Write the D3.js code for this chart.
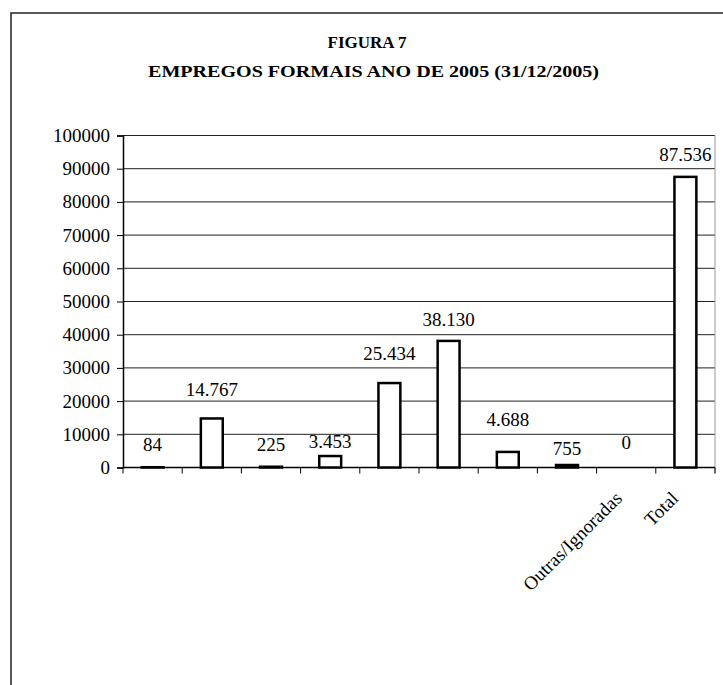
<!DOCTYPE html>
<html>
<head>
<meta charset="utf-8">
<script src="https://cdn.jsdelivr.net/npm/d3@7"></script>
<style>
  html, body { margin: 0; padding: 0; background: #fff; }
  svg { display: block; }
</style>
</head>
<body>
<svg id="chart" width="723" height="685"></svg>
<script>
// Formal jobs by sector, 31/12/2005
const categories = ["c1", "c2", "c3", "c4", "c5", "c6", "c7", "c8", "Outras/Ignoradas", "Total"];
const axisLabels = ["", "", "", "", "", "", "", "", "Outras/Ignoradas", "Total"];
const values = [84, 14767, 225, 3453, 25434, 38130, 4688, 755, 0, 87536];
const valueLabels = ["84", "14.767", "225", "3.453", "25.434", "38.130", "4.688", "755", "0", "87.536"];
const yTicks = [0, 10000, 20000, 30000, 40000, 50000, 60000, 70000, 80000, 90000, 100000];
const titleLines = ["FIGURA 7", "EMPREGOS FORMAIS ANO DE 2005 (31/12/2005)"];

const SERIF = "'Liberation Serif', 'Times New Roman', serif";
// vertical nudges for value labels, so they sit clear of the gridlines
const labelNudge = [0, 6, 0, -8, 7, -1, 10, -6, 3, 0];

const svg = d3.select("#chart");

// outer frame
svg.append("rect")
  .attr("x", 11).attr("y", 13)
  .attr("width", 760).attr("height", 720)
  .attr("fill", "none").attr("stroke", "#222").attr("stroke-width", 1.5);

// title
svg.append("text")
  .attr("x", 367).attr("y", 48)
  .attr("text-anchor", "middle")
  .style("font-family", SERIF)
  .attr("font-weight", "bold").attr("font-size", 17)
  .text(titleLines[0]);
svg.append("text")
  .attr("x", 373.5).attr("y", 77)
  .attr("text-anchor", "middle")
  .style("font-family", SERIF)
  .attr("font-weight", "bold").attr("font-size", 17)
  .attr("textLength", 451).attr("lengthAdjust", "spacingAndGlyphs")
  .text(titleLines[1]);

const plot = { left: 123, right: 715, top: 135.5, bottom: 467.5 };

const x = d3.scaleBand()
  .domain(categories)
  .range([plot.left, plot.right])
  .padding(0);

const y = d3.scaleLinear()
  .domain([0, 100000])
  .range([plot.bottom, plot.top]);

// horizontal gridlines
svg.append("g")
  .selectAll("line")
  .data(yTicks.filter(t => t > 0))
  .join("line")
  .attr("x1", plot.left).attr("x2", plot.right)
  .attr("y1", d => y(d)).attr("y2", d => y(d))
  .attr("stroke", "#222").attr("stroke-width", 1);

// right border of plot area
svg.append("line")
  .attr("x1", plot.right).attr("x2", plot.right)
  .attr("y1", plot.top).attr("y2", plot.bottom + 6)
  .attr("stroke", "#999").attr("stroke-width", 1);

// y axis
const yAxis = svg.append("g")
  .attr("transform", `translate(${plot.left},0)`)
  .call(d3.axisLeft(y).tickValues(yTicks).tickFormat(d3.format("d")).tickSize(6).tickPadding(7));
yAxis.select(".domain").attr("stroke", "#000").attr("stroke-width", 1.5);
yAxis.selectAll(".tick line").attr("stroke", "#000").attr("stroke-width", 1);
yAxis.selectAll(".tick text")
  .style("font-family", SERIF)
  .attr("font-size", 19)
  .attr("fill", "#000");

// x axis with ticks at category boundaries
const boundaries = categories.map(c => x(c)).concat([plot.right]);
const xAxis = svg.append("g");
xAxis.append("line")
  .attr("x1", plot.left).attr("x2", plot.right)
  .attr("y1", plot.bottom).attr("y2", plot.bottom)
  .attr("stroke", "#000").attr("stroke-width", 1.5);
xAxis.selectAll("line.tk")
  .data(boundaries)
  .join("line")
  .attr("class", "tk")
  .attr("x1", d => d).attr("x2", d => d)
  .attr("y1", plot.bottom).attr("y2", plot.bottom + 6)
  .attr("stroke", "#000").attr("stroke-width", 1);

// rotated category labels
xAxis.selectAll("text.cat")
  .data(categories)
  .join("text")
  .attr("class", "cat")
  .attr("text-anchor", "end")
  .style("font-family", SERIF)
  .attr("font-size", 19)
  .attr("fill", "#000")
  .attr("transform", (d, i) => `translate(${x(d) + x.bandwidth() / 2 - (i === categories.length - 1 ? 6 : 3)},${plot.bottom + 32}) rotate(-45)`)
  .text((d, i) => axisLabels[i]);

// bars
const barW = x.bandwidth() * 0.37;
svg.append("g")
  .selectAll("rect")
  .data(values)
  .join("rect")
  .attr("x", (d, i) => x(categories[i]) + x.bandwidth() / 2 - barW / 2)
  .attr("y", d => y(d))
  .attr("width", barW)
  .attr("height", d => plot.bottom - y(d))
  .attr("fill", "#fff")
  .attr("stroke", "#000")
  .attr("stroke-width", d => d > 0 ? 2.5 : 0);

// value labels above bars
svg.append("g")
  .selectAll("text")
  .data(values)
  .join("text")
  .attr("x", (d, i) => x(categories[i]) + x.bandwidth() / 2)
  .attr("y", (d, i) => y(d) - 16 - labelNudge[i])
  .attr("text-anchor", "middle")
  .style("font-family", SERIF)
  .attr("font-size", 19)
  .attr("fill", "#000")
  .text((d, i) => valueLabels[i]);
</script>
</body>
</html>
